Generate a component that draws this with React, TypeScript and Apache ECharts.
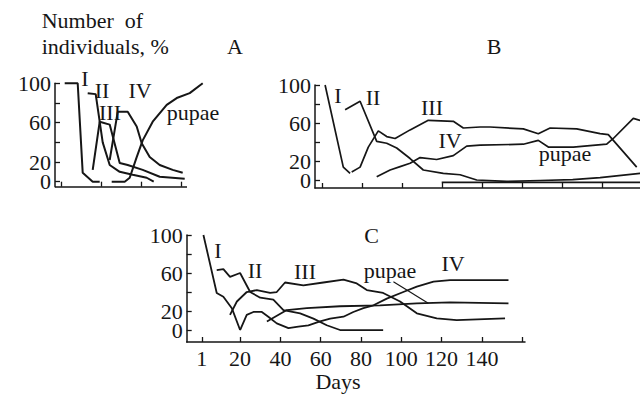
import React, { useEffect, useRef } from "react";
import * as echarts from "echarts";

// ---------- Panel A ----------
const aI_days = [1.5, 8, 10.5, 15.5, 19];
const aI_vals = [100, 100, 9, 0, 0];
const aII_days = [13, 17, 20.5, 24, 29, 35.5, 42.5, 46];
const aII_vals = [90, 89, 40, 17, 10, 7, 4, 0];
const aIII_days = [15.5, 19, 24, 29, 33, 40.5, 49, 61.5];
const aIII_vals = [12, 61, 58, 19, 17, 12, 5, 3];
const aIV_days = [24, 28, 33, 37.5, 40, 44, 49, 55.5, 60.5];
const aIV_vals = [22, 71, 71, 56, 39, 25, 17, 12, 9];
const aP_days = [25, 31.5, 34, 37.5, 40.5, 45.5, 52.5, 57.5, 64, 70.5];
const aP_vals = [0, 0, 4, 25, 42, 61, 78, 85, 90, 100];

// ---------- Panel B ----------
const bI_days = [1.2, 10.3, 13.7];
const bI_vals = [100, 14, 7.5];
const bII_days = [11.2, 18.7, 27, 32, 37, 43.7, 50.3, 60.3, 68.7, 77, 92, 108.7, 125, 138.7, 158.7];
const bII_vals = [74, 83, 41, 39, 34, 23, 11, 7.5, 6, 0.5, -1, 0, 1, 3, 7.5];
const bIII_days = [14.5, 18.7, 22.8, 27.8, 32, 36.2, 43.7, 52.8, 65.3, 70.3, 78.7, 83.7, 100.3, 107.8, 113.7, 127, 138.7, 142.8, 157];
const bIII_vals = [9, 14, 35, 52, 46, 44, 53, 63, 62, 55, 56, 56, 54, 49, 55, 54, 49, 48, 14];
const bIV_days = [27, 33.7, 38.7, 43.7, 48.7, 57, 65.3, 72, 78.7, 100.3, 107.8, 112.8, 125.3, 142, 145.3, 155.3, 158.7];
const bIV_vals = [4, 11, 14.5, 18, 24, 22, 26, 36, 37, 38, 42, 35, 35, 38, 44, 65, 63];
const bP_days = [59.5, 158.7];
const bP_vals = [-2, -2];

// ---------- Panel C ----------
const cI_days = [1.8, 8.4, 11.7, 15.9, 20];
const cI_vals = [100, 39, 35, 23, 0];
const cII_days = [8.4, 11.7, 15, 20, 25, 30, 36.5, 41.5, 49.8, 56.4, 63, 69.6, 91];
const cII_vals = [63, 64, 56, 60, 40, 34, 32, 21, 17.5, 12, 5, 0, 0];
const cIII_days = [15, 18.4, 23.3, 28.3, 34.9, 38.2, 42.3, 51.4, 61.3, 71.3, 77.9, 82.9, 91, 99.4, 107.7, 117.6, 127.5, 151.5];
const cIII_vals = [16, 30, 40, 42, 39, 40, 50, 47, 50, 53, 49, 42, 39, 30, 17.6, 12.3, 10.5, 12.3];
const cIV_days = [20, 23.3, 26.6, 30.8, 34, 38.2, 44, 48.9, 53.9, 59.7, 64.7, 71.3, 76.2, 81.2, 86.2, 92.8, 101, 107.7, 116, 124.2, 153.2];
const cIV_vals = [0, 16, 19, 19, 14, 7, 2, 3.5, 5, 9, 12, 14, 19, 23, 26, 33, 40, 45.6, 51, 52.6, 52.6];
const cP_days = [33.3, 43.2, 53.1, 69.6, 89.5, 107.7, 124.2, 153.2];
const cP_vals = [9, 21, 23, 25, 26, 28, 29, 28];
const cP_leader = [[96.1, 50.8], [113.4, 28.1]];

// ---------- Axis ticks ----------
const ZERO = 1e-9; // stands for 0 in tick lists
const yTicks = [ZERO, 20, 40, 60, 80, 100];
const yLabelsMain = [ZERO, 60, 100];
const yLabelsExtra = [20];
const aXTicks = [ZERO, 20, 40, 60];
const bXTicks = [ZERO, 20, 40, 60, 80, 100, 120, 140];
const cXTicks = [1, 20, 40, 60, 80, 100, 120, 140, 160];
const cXLabels = [1, 20, 40, 60, 80, 100, 120, 140];

// axis extents (days / %)
const aXRange = [-3.35, 62.65];
const aXShown = 72; // grid A is drawn wider so the pupae line is not cut
const bXRange = [-3.85, 158.65];
const cXRange = [-6.5, 161.4];
const aYMin = -5.1;
const bYMin = -7.85;
const cYMin = -12.6;

const FONT = "Liberation Serif";
const INK = "#161616";

const zip = (xs: number[], ys: number[]) => xs.map((x, i) => [x, ys[i]]);
const fmt = (v: number) => String(Math.round(v));

function xAxis(gi: number, min: number, max: number, ticks: number[], labels: number[], showLine = true) {
  return {
    type: "value",
    gridIndex: gi,
    min,
    max,
    axisLine: { show: showLine, onZero: false, lineStyle: { color: INK, width: 1.5 } },
    axisTick: { show: true, inside: true, length: 5, customValues: ticks, lineStyle: { color: INK, width: 1.3 } },
    axisLabel: {
      show: labels.length > 0,
      customValues: labels,
      formatter: fmt,
      hideOverlap: false,
      showMinLabel: true,
      showMaxLabel: true,
      margin: 5,
      fontFamily: FONT,
      fontSize: 22,
      color: INK,
    },
    splitLine: { show: false },
  };
}

function yAxis(gi: number, min: number, labels: number[], decorated: boolean) {
  return {
    type: "value",
    gridIndex: gi,
    position: "left",
    offset: 0,
    min,
    max: 100,
    axisLine: { show: decorated, onZero: false, lineStyle: { color: INK, width: 1.5 } },
    axisTick: { show: decorated, inside: true, length: 5, customValues: yTicks, lineStyle: { color: INK, width: 1.3 } },
    axisLabel: {
      show: true,
      customValues: labels,
      formatter: fmt,
      hideOverlap: false,
      showMinLabel: true,
      showMaxLabel: true,
      margin: 4,
      fontFamily: FONT,
      fontSize: 22,
      color: INK,
    },
    splitLine: { show: false },
  };
}

function line(gi: number, xs: number[], ys: number[], width: number) {
  return {
    type: "line",
    xAxisIndex: gi,
    yAxisIndex: gi,
    data: zip(xs, ys),
    symbol: "none",
    clip: false,
    lineStyle: { color: INK, width },
    silent: true,
  };
}

function txt(x: number, y: number, text: string, align: string = "center") {
  return {
    type: "text",
    x,
    y,
    style: {
      text,
      fontFamily: FONT,
      fontSize: 22,
      fill: INK,
      textAlign: align,
      textVerticalAlign: "middle",
    },
  };
}

export default function App() {
  const ref = useRef<HTMLDivElement>(null);
  useEffect(() => {
    if (!ref.current) return;
    const chart = echarts.init(ref.current, null, { renderer: "svg" });
    const gridBase = { containLabel: false, outerBoundsMode: "none" };
    // px per day in panel A = 2
    const aWidth = 132 * (aXShown - aXRange[0]) / (aXRange[1] - aXRange[0]);
    const option: any = {
      animation: false,
      backgroundColor: "#ffffff",
      textStyle: { fontFamily: FONT },
      grid: [
        { ...gridBase, left: 55, top: 83.3, width: aWidth, height: 103.4 },
        { ...gridBase, left: 315, top: 85, width: 325, height: 103 },
        { ...gridBase, left: 186.7, top: 235, width: 338.3, height: 107 },
      ],
      xAxis: [
        xAxis(0, aXRange[0], aXShown, aXTicks, [], false),
        xAxis(1, bXRange[0], bXRange[1], bXTicks, []),
        xAxis(2, cXRange[0], cXRange[1], cXTicks, cXLabels),
      ],
      yAxis: [
        yAxis(0, aYMin, yLabelsMain, true),
        yAxis(1, bYMin, yLabelsMain, true),
        yAxis(2, cYMin, yLabelsMain, true),
        yAxis(0, aYMin, yLabelsExtra, false),
        yAxis(1, bYMin, yLabelsExtra, false),
        yAxis(2, cYMin, yLabelsExtra, false),
      ],
      series: [
        {
          ...line(0, aI_days, aI_vals, 2),
          markLine: {
            silent: true,
            symbol: "none",
            label: { show: false },
            lineStyle: { color: INK, width: 1.5, type: "solid" },
            data: [[{ coord: [aXRange[0], aYMin] }, { coord: [aXRange[1], aYMin] }]],
          },
        },
        line(0, aII_days, aII_vals, 2),
        line(0, aIII_days, aIII_vals, 2),
        line(0, aIV_days, aIV_vals, 2),
        line(0, aP_days, aP_vals, 2),
        line(1, bI_days, bI_vals, 1.7),
        line(1, bII_days, bII_vals, 1.7),
        line(1, bIII_days, bIII_vals, 1.7),
        line(1, bIV_days, bIV_vals, 1.7),
        line(1, bP_days, bP_vals, 1.7),
        line(2, cI_days, cI_vals, 1.8),
        line(2, cII_days, cII_vals, 1.8),
        line(2, cIII_days, cIII_vals, 1.8),
        line(2, cIV_days, cIV_vals, 1.8),
        {
          ...line(2, cP_days, cP_vals, 1.8),
          markLine: {
            silent: true,
            symbol: "none",
            label: { show: false },
            lineStyle: { color: INK, width: 1.2, type: "solid" },
            data: [[{ coord: cP_leader[0] }, { coord: cP_leader[1] }]],
          },
        },
      ],
      graphic: [
        txt(41.7, 20, "Number  of", "left"),
        txt(41.7, 46, "individuals, %", "left"),
        txt(235, 46, "A"),
        txt(494, 46, "B"),
        txt(371.7, 235, "C"),
        txt(338, 381, "Days"),
        // panel A
        txt(85, 78, "I"),
        txt(102, 90, "II"),
        txt(110, 112, "III"),
        txt(140, 90, "IV"),
        txt(193, 112, "pupae"),
        // panel B
        txt(338, 95, "I"),
        txt(373, 97, "II"),
        txt(432, 107, "III"),
        txt(450, 140, "IV"),
        txt(565, 153, "pupae"),
        // panel C
        txt(218, 250, "I"),
        txt(255, 270, "II"),
        txt(305, 271, "III"),
        txt(390, 270, "pupae"),
        txt(453, 263, "IV"),
      ],
    };
    chart.setOption(option);
    return () => chart.dispose();
  }, []);
  return (
    <div
      ref={ref}
      style={{ position: "absolute", left: 0, top: 0, width: 640, height: 396, background: "#fff" }}
    />
  );
}
